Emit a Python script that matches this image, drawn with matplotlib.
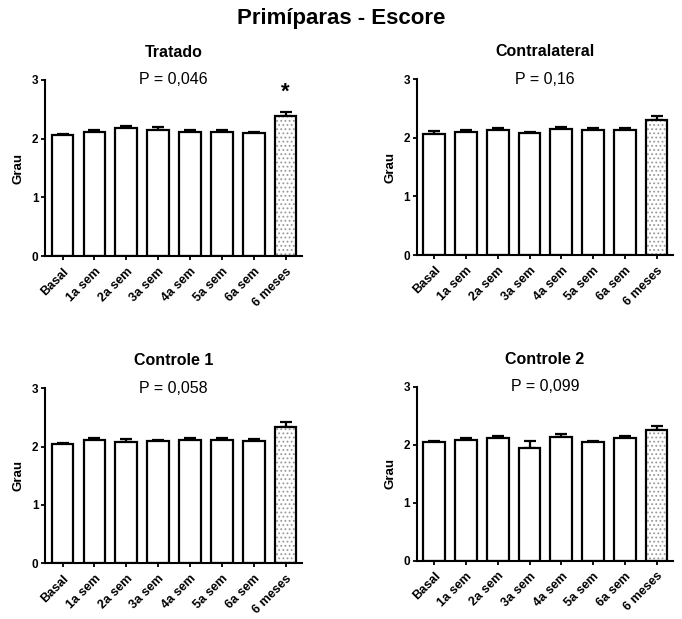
import matplotlib
matplotlib.use("Agg")
import matplotlib.pyplot as plt
import numpy as np

plt.rcParams["font.family"] = ["Liberation Sans", "DejaVu Sans"]
plt.rcParams["hatch.linewidth"] = 0.8

categorias = ["Basal", "1a sem", "2a sem", "3a sem", "4a sem", "5a sem", "6a sem", "6 meses"]

titulos = ["Tratado", "Contralateral", "Controle 1", "Controle 2"]
valores_p = ["P = 0,046", "P = 0,16", "P = 0,058", "P = 0,099"]

tratado = [2.06, 2.12, 2.18, 2.15, 2.12, 2.11, 2.10, 2.38]
tratado_erro = [0.02, 0.03, 0.04, 0.04, 0.03, 0.03, 0.02, 0.08]

contralateral = [2.06, 2.10, 2.13, 2.08, 2.15, 2.13, 2.13, 2.30]
contralateral_erro = [0.05, 0.03, 0.04, 0.02, 0.03, 0.03, 0.03, 0.08]

controle1 = [2.04, 2.11, 2.08, 2.09, 2.11, 2.11, 2.10, 2.34]
controle1_erro = [0.02, 0.03, 0.04, 0.02, 0.04, 0.03, 0.03, 0.08]

controle2 = [2.05, 2.09, 2.11, 1.95, 2.14, 2.05, 2.12, 2.26]
controle2_erro = [0.02, 0.03, 0.04, 0.11, 0.05, 0.02, 0.04, 0.07]

medias = [tratado, contralateral, controle1, controle2]
erros = [tratado_erro, contralateral_erro, controle1_erro, controle2_erro]
asterisco = [True, False, False, False]

# posicoes dos paineis (left, bottom, width, height) em fracao da figura
posicoes = [
    [0.066, 0.586, 0.377, 0.285],
    [0.611, 0.588, 0.376, 0.284],
    [0.066, 0.090, 0.377, 0.283],
    [0.611, 0.094, 0.376, 0.281],
]

fig = plt.figure(figsize=(6.82, 6.19), dpi=100)
fig.text(0.5, 0.970, "Primíparas - Escore", ha="center", va="center",
         fontsize=16, fontweight="bold")

x = np.arange(len(categorias))
for i in range(4):
    ax = fig.add_axes(posicoes[i])
    m = np.array(medias[i])
    e = np.array(erros[i])
    ax.errorbar(x, m, yerr=[np.zeros_like(e), e], fmt="none", ecolor="black",
                elinewidth=1.6, capsize=4.5, capthick=1.6, zorder=1)
    ax.bar(x[:-1], m[:-1], width=0.68, color="white", edgecolor="black",
           linewidth=1.6, zorder=2)
    ax.bar(x[-1:], m[-1:], width=0.68, color="white", edgecolor="#9a9a9a",
           hatch="....", linewidth=0, zorder=2)
    ax.bar(x[-1:], m[-1:], width=0.68, color="none", edgecolor="black",
           linewidth=1.6, zorder=3)
    if asterisco[i]:
        ax.text(x[-1], m[-1] + e[-1] + 0.15, "*", ha="center", va="bottom",
                fontsize=16, fontweight="bold")

    ax.set_xlim(-0.55, 7.52)
    ax.set_ylim(0, 3)
    ax.set_yticks([0, 1, 2, 3])
    ax.set_xticks(x)
    ax.set_xticklabels(categorias, rotation=45, ha="right", rotation_mode="anchor",
                       fontsize=9, fontweight="bold")
    for lab in ax.get_yticklabels():
        lab.set_fontsize(8.5)
        lab.set_fontweight("bold")
    ax.tick_params(axis="both", direction="out", length=3.2, width=1.3, pad=1.5)
    ax.tick_params(axis="x", pad=3.5)
    ax.spines["top"].set_visible(False)
    ax.spines["right"].set_visible(False)
    ax.spines["left"].set_linewidth(1.5)
    ax.spines["bottom"].set_linewidth(1.5)
    ax.set_ylabel("Grau", fontsize=9.5, fontweight="bold", labelpad=5)
    ax.set_title(titulos[i], fontsize=11.5, fontweight="bold", pad=16.5)
    ax.text(0.5, 1.0, valores_p[i], transform=ax.transAxes, ha="center",
            va="center", fontsize=11.5)

fig.savefig("out.png", dpi=100)
